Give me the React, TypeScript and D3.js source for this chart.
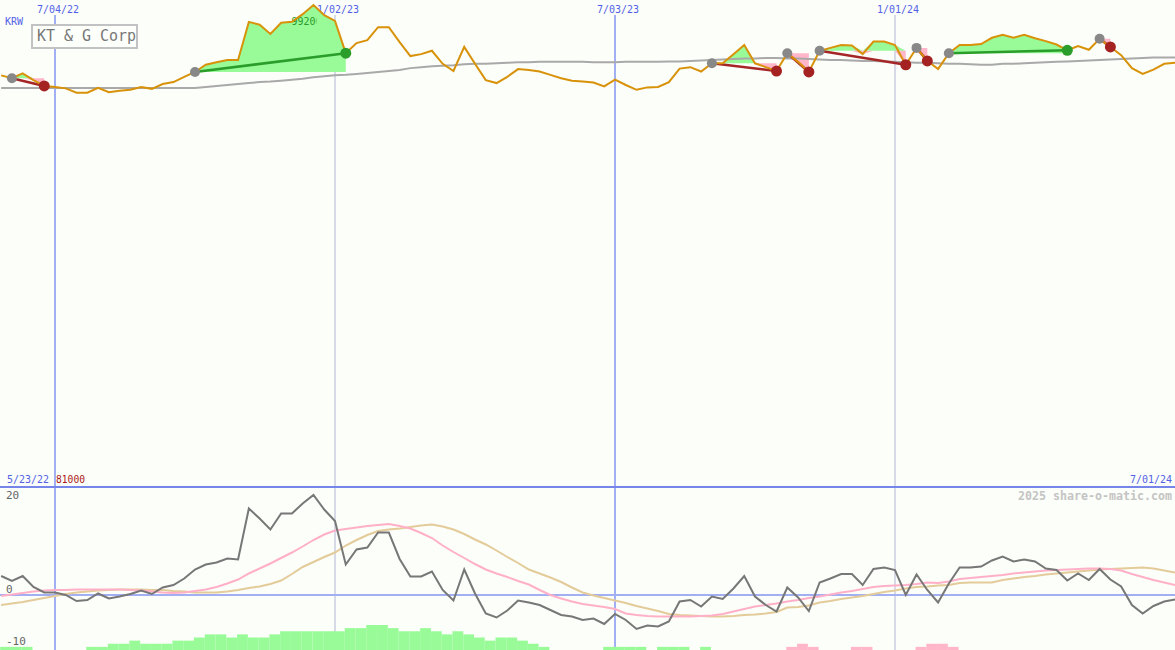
import * as d3 from "d3";

// weekly closes, KRW, starting 5/30/22
const prices = [
  84600, 84000, 85000, 83600, 82400, 82200, 81900, 81000, 81000, 82000,
  81100, 81400, 81600, 82200, 81800, 82800, 83200, 84300, 85300, 86800,
  87300, 87800, 87800, 95700, 95100, 93200, 95500, 95700, 97300, 99200,
  97100, 95900, 89200, 91300, 91900, 94600, 94600, 91500, 88600, 89000,
  89700, 87000, 85500, 90500, 87000, 83600, 83000, 84300, 85900, 85700,
  85400, 84700, 84000, 83500, 83300, 83100, 82300, 83700, 82600, 81600,
  82100, 82200, 83200, 86000, 86300, 85400, 87100, 87100, 89000, 90900,
  87100, 86300, 85500, 89200, 87400, 85300, 89700, 90300, 90900, 90800,
  89000, 91600, 91600, 90900, 86800, 90300, 87600, 85900, 89200, 90900,
  90900, 91100, 92400, 93000, 92400, 93000, 92300, 91700, 91000, 89800,
  90700, 89900, 92200, 90500, 88800, 86100, 84900, 85800, 87000, 87200,
];

// long moving average (grey)
const priceAvg = [
  82000, 82000, 82000, 82000, 82000, 82000, 82000, 82000, 82000, 82000,
  82000, 82000, 82000, 82000, 82000, 82000, 82000, 82000, 82000, 82200,
  82400, 82600, 82800, 83000, 83200, 83300, 83500, 83700, 83900, 84200,
  84400, 84600, 84700, 84900, 85100, 85300, 85500, 85700, 86100, 86300,
  86500, 86600, 86700, 86900, 87000, 87000, 87100, 87200, 87300, 87300,
  87400, 87400, 87400, 87400, 87400, 87300, 87300, 87300, 87400, 87400,
  87400, 87400, 87500, 87500, 87600, 87700, 87800, 87900, 88000, 88100,
  88100, 88200, 88200, 88100, 88100, 88000, 87900, 87800, 87800, 87700,
  87600, 87600, 87500, 87400, 87300, 87200, 87200, 87100, 87000, 87000,
  86900, 86800, 86800, 87000, 87000, 87100, 87200, 87300, 87400, 87500,
  87600, 87700, 87800, 87900, 88000, 88100, 88200, 88300, 88300, 88300,
];

const momentum = [
  3.8, 2.8, 3.8, 1.6, 0.5, 0.5, 0, -1.2, -1.0, 0.3,
  -0.7, -0.3, 0.2, 0.9, 0.2, 1.5, 2.0, 3.3, 5.1, 6.1,
  6.5, 7.3, 7.1, 17.3, 15.3, 13.1, 16.3, 16.3, 18.3, 20,
  17.1, 14.8, 6.1, 9.1, 9.5, 12.5, 12.5, 7.2, 3.7, 3.7,
  4.7, 1.0, -1.1, 5.1, 0.3, -3.7, -4.5, -3.1, -1.1, -1.5,
  -2.0, -3.0, -4.0, -4.3, -5.0, -4.7, -5.8, -3.8, -5.0, -6.8,
  -6.1, -6.3, -5.3, -1.3, -1.0, -2.3, -0.3, -0.8, 1.3, 3.8,
  -0.3, -2.0, -3.3, 1.5, -0.5, -3.2, 2.5, 3.3, 4.2, 4.2,
  2.0, 5.2, 5.5, 5.0, 0, 4.1, 1.0, -1.5, 2.3, 5.5,
  5.5, 5.7, 6.9, 7.7, 6.7, 7.1, 6.7, 5.3, 5.0, 2.9,
  4.3, 3.0, 5.2, 3.1, 1.7, -2.0, -3.7, -2.2, -1.3, -0.9,
];

const momentumFast = [
  -0.2, 0.1, 0.4, 0.7, 0.9, 1.0, 1.0, 1.1, 1.1, 1.1,
  1.1, 1.1, 1.0, 0.9, 0.7, 0.5, 0.4, 0.5, 0.8, 1.1,
  1.6, 2.3, 3.1, 4.3, 5.3, 6.3, 7.4, 8.5, 9.7, 11,
  12.1, 12.9, 13.2, 13.5, 13.8, 14.0, 14.2, 13.8, 13.3, 12.4,
  11.4, 9.9, 8.6, 7.4, 6.2, 5.1, 4.3, 3.6, 2.8, 2.1,
  1.0, 0, -0.7, -1.3, -1.8, -2.1, -2.4, -2.8, -3.7, -4.0,
  -4.2, -4.3, -4.3, -4.3, -4.3, -4.2, -4.1, -3.8, -3.3, -2.8,
  -2.3, -2.0, -1.7, -1.3, -1.0, -0.6, -0.3, 0.1, 0.5, 0.8,
  1.2, 1.6, 1.8, 1.9, 2.0, 2.2, 2.5, 2.4, 2.7, 3.2,
  3.4, 3.6, 3.8, 4.0, 4.3, 4.5, 4.7, 4.9, 5.0, 5.1,
  5.2, 5.3, 5.3, 5.2, 4.9, 4.2, 3.6, 3.0, 2.5, 2.0,
];

const momentumSlow = [
  -2.0, -1.7, -1.4, -1.0, -0.6, -0.2, 0.2, 0.5, 0.7, 0.9,
  1.0, 1.1, 1.1, 1.1, 1.0, 1.0, 0.8, 0.7, 0.5, 0.5,
  0.5, 0.7, 1.0, 1.4, 1.7, 2.2, 2.9, 4.2, 5.6, 6.6,
  7.6, 8.5, 9.9, 11, 12, 12.8, 13.1, 13.3, 13.6, 13.9,
  14.1, 13.7, 13.1, 12.2, 11.1, 10.1, 8.9, 7.6, 6.4, 5.1,
  4.3, 3.5, 2.6, 1.5, 0.5, -0.1, -0.6, -1.1, -1.6, -2.2,
  -2.7, -3.2, -3.8, -4.0, -4.1, -4.2, -4.3, -4.3, -4.2, -4.0,
  -3.9, -3.7, -3.4, -2.5, -2.4, -2.1, -1.5, -1.2, -0.8, -0.5,
  -0.2, 0.2, 0.6, 0.9, 1.3, 1.6, 1.7, 1.9, 2.0, 2.4,
  2.5, 2.5, 2.5, 3.0, 3.3, 3.6, 3.8, 4.1, 4.3, 4.5,
  4.7, 4.9, 5.1, 5.2, 5.3, 5.4, 5.5, 5.3, 4.9, 4.5,
];

// signal strength bars at the bottom (+ green, - pink)
const signal = [
  1, 1, 1, 0, 0, 0, 0, 0, 1, 1,
  2, 2, 3, 2, 2, 2, 3, 3, 4, 5,
  5, 4, 5, 4, 4, 5, 6, 6, 6, 6,
  6, 6, 7, 7, 8, 8, 7, 6, 6, 7,
  6, 5, 6, 5, 4, 3, 4, 4, 3, 2,
  1, 0, 0, 0, 0, 0, 1, 1, 1, 1,
  0, 1, 1, 1, 0, 1, 0, 0, 0, 0,
  0, 0, 0, -1, -2, -1, 0, 0, 0, -1,
  -1, 0, 0, 0, 0, -1, -2, -2, -1, 0,
  0, 0, 0, 0, 0, 0, 0, 0, 0, 0,
  0, 0, 0, 0, 0, 0, 0, 0, 0, 0,
];

// [entry week, exit week]
const trades = [
  [1, 4], [18, 32], [66, 72], [73, 75], [76, 84], [85, 86], [88, 99], [102, 103],
];

const gridDates = ["2022-07-04", "2023-01-02", "2023-07-03", "2024-01-01"];
const momentumTicks = [20, 0, -10];

const W = 1175;
const H = 650;
const mono = "'DejaVu Sans Mono', monospace";
const blue = "#5262e6";

const start = new Date(2022, 4, 30);
const dates = prices.map((_, i) => d3.timeDay.offset(start, i * 7));
const parse = d3.timeParse("%Y-%m-%d");
const fmt = d3.timeFormat("%-m/%d/%y");

const x = d3
  .scaleTime()
  .domain([new Date(2022, 6, 4), new Date(2024, 6, 1)])
  .range([55, 1175]);

const yP = d3.scaleLinear().domain([81000, 99200]).range([92.7, 5]);
const yM = d3.scaleLinear().domain([-10, 20]).range([645, 495]);
const hBar = d3.scaleLinear().domain([0, 8]).range([0, 25]);

const App = () => {
  const priceLine = d3
    .line<number>()
    .x((_, i) => x(dates[i]))
    .y((d) => yP(d));
  const momLine = d3
    .line<number>()
    .x((_, i) => x(dates[i]))
    .y((d) => yM(d));

  const step = x(dates[1]) - x(dates[0]);
  const maxIdx = d3.maxIndex(prices);

  return (
    <div style={{ position: "absolute", left: 0, top: 0 }}>
      <svg width={W} height={H} style={{ display: "block", background: "#fcfef9" }}>
        <defs>
          <clipPath id="plot">
            <rect x={0} y={0} width={W} height={H} />
          </clipPath>
          <clipPath id="peak">
            <rect x={0} y={0} width={x(dates[maxIdx]) + 3} height={40} />
          </clipPath>
        </defs>

        {/* vertical date lines */}
        {gridDates.map((s, k) => {
          const d = parse(s)!;
          const xx = x(d);
          return (
            <g key={s}>
              <line
                x1={xx}
                x2={xx}
                y1={15}
                y2={H}
                stroke={k % 2 === 0 ? "#a2aff2" : "#b2b6d4"}
                strokeWidth={k % 2 === 0 ? 2 : 1}
              />
              <text x={xx + 3} y={13} textAnchor="middle" fontFamily={mono} fontSize={11} fill={blue} textLength={42} lengthAdjust="spacingAndGlyphs">
                {fmt(d)}
              </text>
            </g>
          );
        })}

        <text x={5} y={24.5} fontFamily={mono} fontSize={10} fill={blue}>KRW</text>

        {/* trade fills */}
        <g clipPath="url(#plot)">
          {trades.map(([a, b], k) => {
            const base = prices[a];
            const seg = d3.range(a, b + 1);
            const up = d3
              .area<number>()
              .x((i) => x(dates[i]))
              .y0(yP(base))
              .y1((i) => yP(Math.max(prices[i], base)));
            const down = d3
              .area<number>()
              .x((i) => x(dates[i]))
              .y0(yP(base))
              .y1((i) => yP(Math.min(prices[i], base)));
            return (
              <g key={k}>
                <path d={up(seg) ?? ""} fill="#98fb98" />
                <path d={down(seg) ?? ""} fill="#ffb6c8" />
              </g>
            );
          })}
        </g>

        <text x={x(dates[maxIdx]) - 22} y={25} fontFamily={mono} fontSize={10} fill="#2a9a2a" clipPath="url(#peak)">
          {d3.format("d")(prices[maxIdx])}
        </text>

        <path d={priceLine(priceAvg) ?? ""} fill="none" stroke="#a9a9a9" strokeWidth={2} />

        {trades.map(([a, b], k) => (
          <line
            key={k}
            x1={x(dates[a])}
            y1={yP(prices[a])}
            x2={x(dates[b])}
            y2={yP(prices[b])}
            stroke={prices[b] > prices[a] ? "#2a9d2a" : "#a52626"}
            strokeWidth={2.5}
          />
        ))}

        <path d={priceLine(prices) ?? ""} fill="none" stroke="#d8920a" strokeWidth={2} />

        {trades.map(([a, b], k) => (
          <g key={k}>
            <circle cx={x(dates[a])} cy={yP(prices[a])} r={5} fill="#888" />
            <circle cx={x(dates[b])} cy={yP(prices[b])} r={5.5} fill={prices[b] > prices[a] ? "#2a9d2a" : "#a52222"} />
          </g>
        ))}

        {/* title box */}
        <rect x={32} y={25} width={105} height={23} fill="#fdfffb" stroke="#c2c2c2" strokeWidth={2} />
        <text x={37} y={41} fontFamily={mono} fontSize={15} fill="#777" textLength={99} lengthAdjust="spacingAndGlyphs">
          KT &amp; G Corp
        </text>

        {/* lower panel */}
        <line x1={0} x2={W} y1={487} y2={487} stroke="#7585ea" strokeWidth={2} />
        <text x={7} y={483} fontFamily={mono} fontSize={11} fill={blue} textLength={42} lengthAdjust="spacingAndGlyphs">
          {fmt(d3.timeDay.offset(start, -7))}
        </text>
        <text x={56} y={483} fontFamily={mono} fontSize={11} fill="#aa1818" textLength={29} lengthAdjust="spacingAndGlyphs">
          {d3.min(prices)}
        </text>
        <text x={1172} y={483} textAnchor="end" fontFamily={mono} fontSize={11} fill={blue} textLength={42} lengthAdjust="spacingAndGlyphs">
          {fmt(dates[dates.length - 1])}
        </text>
        <text x={1172} y={500} textAnchor="end" fontFamily={mono} fontSize={11.5} fontWeight="bold" fill="#c4c4c4" textLength={154} lengthAdjust="spacingAndGlyphs">
          2025 share-o-matic.com
        </text>

        <line x1={0} x2={W} y1={yM(0)} y2={yM(0)} stroke="#a2aff2" strokeWidth={2} />
        {momentumTicks.map((t) => (
          <text
            key={t}
            x={6}
            y={Math.min(645, Math.max(499, yM(t) - (t < 0 ? 0 : 2)))}
            fontFamily={mono}
            fontSize={11}
            fill="#666"
          >
            {t}
          </text>
        ))}

        {signal.map((v, i) =>
          v === 0 ? null : (
            <rect
              key={i}
              x={x(dates[i]) - 1}
              y={H - hBar(Math.abs(v))}
              width={step}
              height={hBar(Math.abs(v))}
              fill={v > 0 ? "#98fb98" : "#ffb6c8"}
            />
          )
        )}

        <path d={momLine(momentumSlow) ?? ""} fill="none" stroke="#e3cb9a" strokeWidth={2} />
        <path d={momLine(momentumFast) ?? ""} fill="none" stroke="#ffb0c8" strokeWidth={2} />
        <path d={momLine(momentum) ?? ""} fill="none" stroke="#777" strokeWidth={2} />
      </svg>
    </div>
  );
};

export default App;
